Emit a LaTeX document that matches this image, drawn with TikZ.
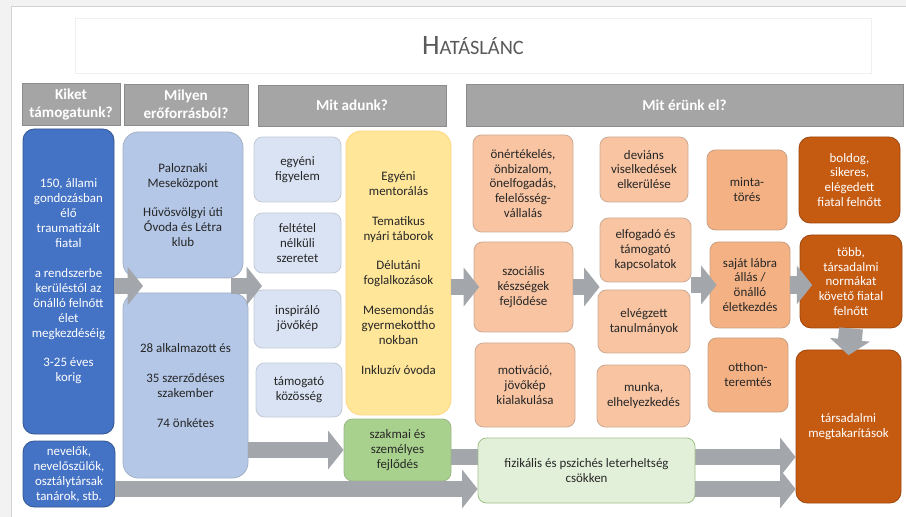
\documentclass[tikz,border=0pt]{standalone}
\usepackage{fontspec}
\setmainfont{Carlito}
\usetikzlibrary{arrows.meta}

\definecolor{hdrgray}{HTML}{A5A5A5}
\definecolor{arrgray}{HTML}{A3A6AA}
\definecolor{darkblue}{HTML}{4472C4}
\definecolor{midblue}{HTML}{B4C7E7}
\definecolor{paleblue}{HTML}{DAE3F3}
\definecolor{goldfill}{HTML}{FFE699}
\definecolor{leafgreen}{HTML}{A9D18E}
\definecolor{palegreen}{HTML}{E2F0D9}
\definecolor{peach}{HTML}{F8C4A2}
\definecolor{deeppeach}{HTML}{F4B183}
\definecolor{rust}{HTML}{C55A11}
\definecolor{inktext}{HTML}{262626}
\definecolor{titletext}{HTML}{595959}

\pgfdeclarelayer{paper}
\pgfdeclarelayer{back}
\pgfsetlayers{paper,back,main}

\tikzset{
	px/.style 2 args = {minimum width = #1*0.025cm, minimum height = #2*0.025cm},
	header/.style = {fill = hdrgray, draw = hdrgray!85!black, line width = 0.5pt, text = white, align = center, inner sep = 0pt, font = \fontsize{10.8}{12.8}\selectfont\bfseries},
	card/.style = {rounded corners = 6pt, line width = 0.6pt, align = center, inner sep = 0pt, text = inktext, font = \fontsize{9.2}{10.6}\selectfont},
	bluecard/.style = {card, fill = darkblue, draw = darkblue!75!black, text = white, rounded corners = 8pt},
	poolcard/.style = {card, fill = midblue, draw = midblue!70!gray, rounded corners = 11pt},
	givecard/.style = {card, fill = paleblue, draw = paleblue!75!gray},
	goldcard/.style = {card, fill = goldfill, draw = goldfill!85!orange, rounded corners = 11pt},
	leafcard/.style = {card, fill = leafgreen, draw = leafgreen!70!gray},
	palecard/.style = {card, fill = palegreen, draw = leafgreen!80!gray},
	peachcard/.style = {card, fill = peach, draw = peach!65!gray},
	deepcard/.style = {card, fill = deeppeach, draw = deeppeach!65!gray},
	rustcard/.style = {card, fill = rust, draw = rust!80!black, text = white, rounded corners = 8pt},
	barrow/.style = {draw = arrgray, line width = 11pt, -{Triangle[width = 27pt, length = 11pt]}},
}

\begin{document}
\begin{tikzpicture}[x = 0.025cm, y = -0.025cm]
	\useasboundingbox (0,0) rectangle (906,517);
	\begin{pgfonlayer}{paper}
		\fill[gray!10] (0,0) rectangle (906,517);
		\draw[gray!35, fill = white] (11,6) rectangle (912,525);
	\end{pgfonlayer}
	
	% title
	\node[draw = gray!12, px = {796}{55}, text = titletext] (title) at (473,45.5)
		{{\fontsize{20}{24}\selectfont H}{\fontsize{14.5}{18}\selectfont ATÁSLÁNC}};
	
	% column headers
	\node[header, px = {98}{42}] (hkiket) at (71,104) {Kiket\\támogatunk?};
	\node[header, px = {124}{41}] (hforras) at (186,104.5) {Milyen\\erőforrásból?};
	\node[header, px = {188}{41}] (hadunk) at (352,105.5) {Mit adunk?};
	\node[header, px = {437}{42}] (herunk) at (684.5,105) {Mit érünk el?};
	
	% who
	\node[bluecard, px = {91}{305}] (kiket) at (68.5,281.5)
		{150, állami\\gondozásban\\élő\\traumatizált\\fiatal\\[10.6pt]a rendszerbe\\kerüléstől az\\önálló felnőtt\\élet\\megkezdéséig\\[10.6pt]3-25 éves\\korig};
	\node[bluecard, px = {92}{66}] (nevelok) at (69,474)
		{nevelők,\\nevelőszülők,\\osztálytársak\\tanárok, stb.};
	
	% resources
	\node[poolcard, px = {120}{146}] (palo) at (183,205)
		{Paloznaki\\Meseközpont\\[10.6pt]Hűvösvölgyi úti\\Óvoda és Létra\\klub};
	\node[poolcard, px = {125}{185}] (staff) at (185.5,385.5)
		{28 alkalmazott és\\[10.6pt]35 szerződéses\\szakember\\[10.6pt]74 önkétes};
	
	% what we give
	\node[givecard, px = {87}{65}] (figyelem) at (297.5,169.5) {egyéni\\figyelem};
	\node[givecard, px = {87}{60}] (szeretet) at (297.5,243) {feltétel\\nélküli\\szeretet};
	\node[givecard, px = {87}{58}] (jovokep) at (297.5,319) {inspiráló\\jövőkép};
	\node[givecard, px = {86}{54}] (kozosseg) at (299,390) {támogató\\közösség};
	\node[goldcard, px = {105}{284}] (mentor) at (398.5,273)
		{Egyéni\\mentorálás\\[10.6pt]Tematikus\\nyári táborok\\[10.6pt]Délutáni\\foglalkozások\\[10.6pt]Mesemondás\\gyermekottho\\nokban\\[10.6pt]Inkluzív óvoda};
	\node[leafcard, px = {107}{62}] (szakmai) at (397.5,450) {szakmai és\\személyes\\fejlődés};
	
	% what we reach
	\node[peachcard, px = {100}{97}] (onert) at (523,183.5)
		{önértékelés,\\önbizalom,\\önelfogadás,\\felelősség-\\vállalás};
	\node[peachcard, px = {99}{90}] (szoc) at (523.5,287) {szociális\\készségek\\fejlődése};
	\node[peachcard, px = {100}{84}] (motiv) at (525,385) {motiváció,\\jövőkép\\kialakulása};
	
	\node[peachcard, px = {88}{65}] (devians) at (644,169.5) {deviáns\\viselkedések\\elkerülése};
	\node[peachcard, px = {91}{64}] (kapcs) at (645.5,250) {elfogadó és\\támogató\\kapcsolatok};
	\node[peachcard, px = {92}{63}] (tanul) at (644,321.5) {elvégzett\\tanulmányok};
	\node[peachcard, px = {93}{62}] (munka) at (643.5,396) {munka,\\elhelyezkedés};
	
	\node[deepcard, px = {80}{80}] (minta) at (747,190) {minta-\\törés};
	\node[deepcard, px = {80}{86}] (sajat) at (750,285) {saját lábra\\állás /\\önálló\\életkezdés};
	\node[deepcard, px = {80}{74}] (otthon) at (748,375) {otthon-\\teremtés};
	
	\node[rustcard, px = {101}{86}] (boldog) at (849.5,180)
		{boldog,\\sikeres,\\elégedett\\fiatal felnőtt};
	\node[rustcard, px = {102}{93}] (tobb) at (851,281.5)
		{több,\\társadalmi\\normákat\\követő fiatal\\felnőtt};
	\node[rustcard, px = {105}{153}] (megtak) at (848.5,426.5)
		{társadalmi\\megtakarítások};
	
	\node[palecard, px = {217}{65}] (fiz) at (586.5,470.5)
		{fizikális és pszichés leterheltség\\csökken};
	
	% arrow levels
	\coordinate (gapL) at (143,286);
	\coordinate (gapR) at (262,286);
	\coordinate (lowA) at (0,457);
	\coordinate (lowB) at (0,489);
	
	% arrows
	\begin{pgfonlayer}{back}
		\draw[barrow] (szakmai.east |- lowA) -- (megtak.west |- lowA);
	\end{pgfonlayer}
	\draw[barrow] (kiket.east |- gapL) -- (gapL);
	\draw[barrow] ([xshift = -9pt]palo.east |- gapR) -- (gapR);
	\draw[barrow] (mentor.east |- szoc.west) -- ([xshift = 4pt]szoc.west);
	\draw[barrow] (szoc.east) -- (szoc.east -| kapcs.west);
	\draw[barrow] (kapcs.east |- sajat.west) -- ([xshift = 5pt]sajat.west);
	\draw[barrow, line width = 13pt] (sajat.east) -- ([xshift = 9pt]sajat.east -| tobb.west);
	\draw[barrow] (staff.east |- szakmai.west) -- (szakmai.west);
	\draw[barrow] (nevelok.east |- lowB) -- (fiz.west |- lowB);
	\draw[barrow] (fiz.east |- lowB) -- (megtak.west |- lowB);
	\draw[draw = arrgray, line width = 17pt, -{Triangle[width = 28pt, length = 11pt]}] (tobb.south) -- ([yshift = -4pt]megtak.north);
\end{tikzpicture}
\end{document}
